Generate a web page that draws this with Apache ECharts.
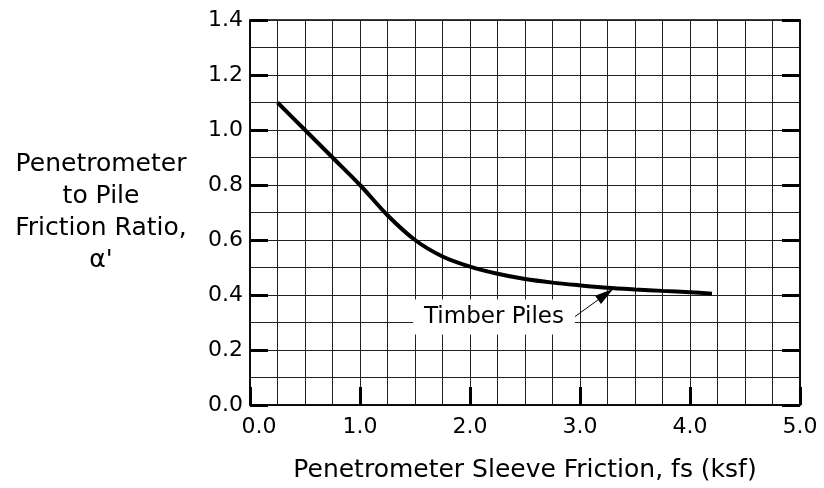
<!DOCTYPE html>
<html>
<head>
<meta charset="utf-8">
<script src="https://cdn.jsdelivr.net/npm/echarts@6/dist/echarts.min.js"></script>
<style>
html,body{margin:0;padding:0;background:#fff;}
#chart{width:824px;height:488px;}
</style>
</head>
<body>
<div id="chart"></div>
<script>
// Data
const xValues = [0.25, 0.5, 0.75, 1.0, 1.25, 1.5, 1.75, 2.0, 2.25, 2.5, 2.75, 3.0, 3.25, 3.5, 3.75, 4.0, 4.2];
const yValues = [1.10, 1.00, 0.90, 0.80, 0.69, 0.60, 0.54, 0.503, 0.477, 0.458, 0.445, 0.435, 0.426, 0.420, 0.415, 0.410, 0.405];
const seriesName = 'Timber Piles';
const xTitle = 'Penetrometer Sleeve Friction, fs (ksf)';
const yTitle = "Penetrometer\nto Pile\nFriction Ratio,\nα'";
// annotation anchor points (data units)
const labelAt = [2.218, 0.32];
const arrowFrom = [2.89, 0.303];
const arrowTo = [3.234, 0.4025];

const FONT = '"DejaVu Sans", "Liberation Sans", Arial, sans-serif';
const chart = echarts.init(document.getElementById('chart'), null, {renderer: 'canvas'});

const points = xValues.map((x, i) => [x, yValues[i]]);

const option = {
  animation: false,
  backgroundColor: '#fff',
  textStyle: {fontFamily: FONT, color: '#000'},
  grid: {left: 250, right: 24, top: 20, bottom: 83, show: true, borderColor: '#000', borderWidth: 1.5, backgroundColor: 'transparent'},
  xAxis: {
    type: 'value', min: 0, max: 5, interval: 1,
    name: xTitle, nameLocation: 'middle', nameGap: 65,
    nameTextStyle: {fontSize: 25, color: '#000', fontFamily: FONT, verticalAlign: 'middle'},
    axisLine: {show: true, lineStyle: {color: '#000', width: 1.5}},
    axisTick: {show: true, inside: true, length: 18, lineStyle: {color: '#000', width: 3}},
    axisLabel: {
      fontSize: 22, color: '#000', fontFamily: FONT, margin: 11,
      formatter: (v, i) => i === 0 ? '{a|' + v.toFixed(1) + '}' : v.toFixed(1),
      rich: {a: {fontSize: 22, fontFamily: FONT, color: '#000', padding: [0, 0, 0, 18]}}
    },
    splitLine: {show: true, lineStyle: {color: '#222', width: 1}},
    minorTick: {show: false, splitNumber: 4},
    minorSplitLine: {show: true, lineStyle: {color: '#222', width: 1}}
  },
  yAxis: [{
    type: 'value', min: 0, max: 1.4, interval: 0.2,
    name: yTitle, nameLocation: 'middle', nameGap: 149, nameRotate: 0,
    nameTextStyle: {fontSize: 25, color: '#000', fontFamily: FONT, align: 'center', verticalAlign: 'middle', lineHeight: 32, padding: [0, 0, 41, 0]},
    axisLine: {show: true, lineStyle: {color: '#000', width: 1.5}},
    axisTick: {show: true, inside: true, length: 18, lineStyle: {color: '#000', width: 3}},
    axisLabel: {fontSize: 22, color: '#000', fontFamily: FONT, margin: 7, formatter: v => v.toFixed(1)},
    splitLine: {show: true, lineStyle: {color: '#222', width: 1}},
    minorTick: {show: false, splitNumber: 2},
    minorSplitLine: {show: true, lineStyle: {color: '#222', width: 1}}
  }, {
    type: 'value', min: 0, max: 1.4, interval: 0.2, position: 'right',
    axisLine: {show: true, lineStyle: {color: '#000', width: 1.5}},
    axisTick: {show: true, inside: true, length: 18, lineStyle: {color: '#000', width: 3}},
    axisLabel: {show: false},
    splitLine: {show: false}
  }],
  series: [{
    name: seriesName,
    type: 'line',
    data: points,
    smooth: 0.3,
    showSymbol: false,
    symbol: 'none',
    lineStyle: {color: '#000', width: 4},
    z: 5,
    markPoint: {
      silent: true,
      data: [{
        coord: labelAt, symbol: 'circle', symbolSize: 0,
        label: {show: true, position: 'inside', formatter: seriesName, backgroundColor: '#fff',
          padding: [6, 11], color: '#000', fontSize: 23, fontFamily: FONT}
      }]
    },
    markLine: {
      silent: true,
      animation: false,
      label: {show: false},
      symbol: ['none', 'triangle'],
      symbolSize: [0, 18],
      data: [[
        {coord: arrowFrom, symbol: 'none'},
        {coord: arrowTo, symbol: 'triangle', symbolSize: [10, 19]}
      ]],
      lineStyle: {color: '#000', width: 1, type: 'solid'}
    }
  }]
};
chart.setOption(option);
</script>
</body>
</html>
